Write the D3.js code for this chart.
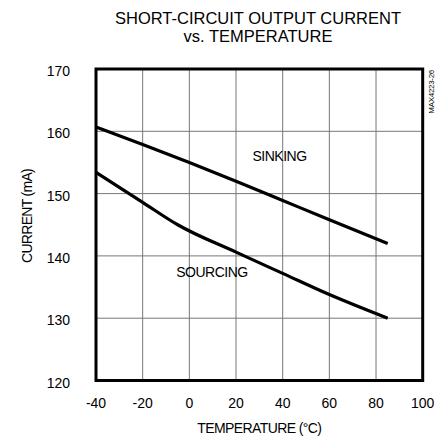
<!DOCTYPE html>
<html>
<head>
<meta charset="UTF-8">
<title>Short-Circuit Output Current vs. Temperature</title>
<script src="https://d3js.org/d3.v7.min.js"></script>
<style>
    body { margin: 0; background: #fff; }
    svg text { font-family: "Liberation Sans", Arial, sans-serif; fill: #000; }
</style>
</head>
<body>
<div id="chart"></div>
<script>
    // values (deg C -> mA)
    let sinkTemps = [-40, -20, 0, 20, 40, 60, 85];
    let sinking = [160.7, 157.9, 155.0, 152.0, 148.9, 145.8, 142.0];
    let sourceTemps = [-40, -20, -5, 20, 40, 60, 85];
    let sourcing = [153.4, 148.6, 145.0, 140.6, 137.2, 133.8, 130.0];

    let xTicks = [-40, -20, 0, 20, 40, 60, 80, 100];
    let yTicks = [120, 130, 140, 150, 160, 170];

    let W = 437, H = 436;
    let plotL = 96, plotR = 422.7, plotT = 69, plotB = 380.5;

    let svg = d3.select("#chart").append("svg")
        .attr("width", W)
        .attr("height", H);

    let x = d3.scaleLinear().domain([-40, 100]).range([plotL, plotR]);
    let y = d3.scaleLinear().domain([120, 170]).range([plotB, plotT]);

    // grid
    svg.append("g").selectAll("line")
        .data(xTicks.slice(1, -1))
        .enter().append("line")
        .attr("x1", d => x(d)).attr("x2", d => x(d))
        .attr("y1", plotT).attr("y2", plotB)
        .attr("stroke", "#777").attr("stroke-width", 1);

    svg.append("g").selectAll("line")
        .data(yTicks.slice(1, -1))
        .enter().append("line")
        .attr("x1", plotL).attr("x2", plotR)
        .attr("y1", d => y(d)).attr("y2", d => y(d))
        .attr("stroke", "#777").attr("stroke-width", 1);

    // curves
    let line = d3.line()
        .x(d => x(d[0]))
        .y(d => y(d[1]))
        .curve(d3.curveMonotoneX);

    let series = [
        d3.zip(sinkTemps, sinking),
        d3.zip(sourceTemps, sourcing)
    ];

    series.forEach(s => {
        svg.append("path")
            .datum(s)
            .attr("d", line)
            .attr("fill", "none")
            .attr("stroke", "#000")
            .attr("stroke-width", 3.2);
    });

    // frame
    svg.append("rect")
        .attr("x", plotL).attr("y", plotT)
        .attr("width", plotR - plotL).attr("height", plotB - plotT)
        .attr("fill", "none")
        .attr("stroke", "#000")
        .attr("stroke-width", 3);

    // tick labels
    svg.append("g").selectAll("text")
        .data(yTicks)
        .enter().append("text")
        .attr("x", 70)
        .attr("y", d => y(d) + 7)
        .attr("text-anchor", "end")
        .style("font-size", "14px")
        .text(d => d);

    svg.append("g").selectAll("text")
        .data(xTicks)
        .enter().append("text")
        .attr("x", d => x(d))
        .attr("y", 408)
        .attr("text-anchor", "middle")
        .style("font-size", "14px")
        .text(d => d);

    // axis titles
    svg.append("text")
        .attr("x", (plotL + plotR) / 2)
        .attr("y", 433)
        .attr("text-anchor", "middle")
        .style("font-size", "14px")
        .style("letter-spacing", "-0.6px")
        .text("TEMPERATURE (°C)");

    svg.append("text")
        .attr("transform", "translate(32,216) rotate(-90)")
        .attr("text-anchor", "middle")
        .style("font-size", "14px")
        .style("letter-spacing", "-0.7px")
        .text("CURRENT (mA)");

    // title
    svg.append("text")
        .attr("x", 258)
        .attr("y", 24)
        .attr("text-anchor", "middle")
        .style("font-size", "16.5px")
        .text("SHORT-CIRCUIT OUTPUT CURRENT");

    svg.append("text")
        .attr("x", 258)
        .attr("y", 42)
        .attr("text-anchor", "middle")
        .style("font-size", "16.5px")
        .text("vs. TEMPERATURE");

    // curve labels
    svg.append("text")
        .attr("x", 279.5)
        .attr("y", 161)
        .attr("text-anchor", "middle")
        .style("font-size", "14px")
        .style("letter-spacing", "-0.5px")
        .text("SINKING");

    svg.append("text")
        .attr("x", 212)
        .attr("y", 277)
        .attr("text-anchor", "middle")
        .style("font-size", "14px")
        .style("letter-spacing", "-0.5px")
        .text("SOURCING");

    // part number tag
    svg.append("text")
        .attr("transform", "translate(434,70) rotate(-90)")
        .attr("text-anchor", "end")
        .style("font-size", "8px")
        .style("letter-spacing", "-0.3px")
        .text("MAX4223-26");
</script>
</body>
</html>
